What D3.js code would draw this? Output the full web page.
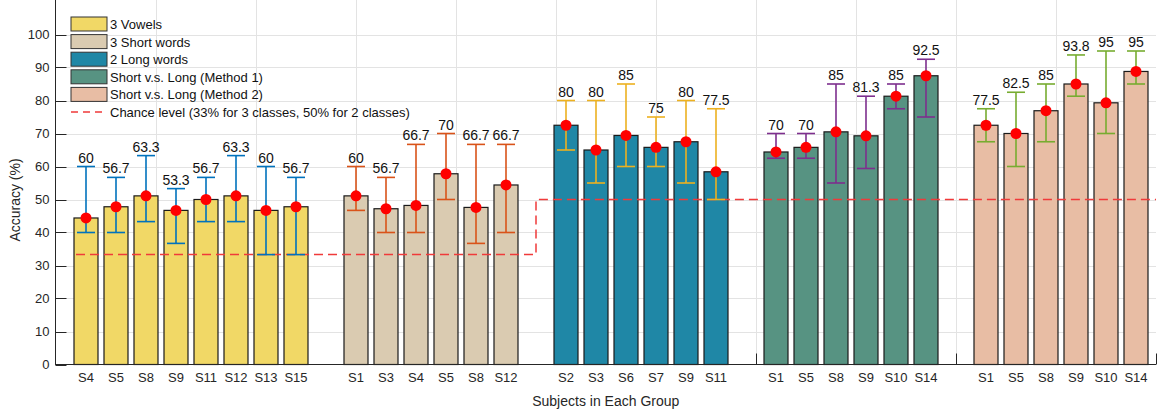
<!DOCTYPE html>
<html>
<head>
<meta charset="utf-8">
<script src="https://cdn.jsdelivr.net/npm/d3@7"></script>
<style>
  html, body { margin: 0; padding: 0; background: #fff; }
  svg { display: block; font-family: "Liberation Sans", Arial, Helvetica, sans-serif; }
</style>
</head>
<body>
<svg id="chart" width="1157" height="415"></svg>
<script>
// ---- data -------------------------------------------------------------
const groupNames = [
  "3 Vowels",
  "3 Short words",
  "2 Long words",
  "Short v.s. Long (Method 1)",
  "Short v.s. Long (Method 2)"
];
const subjects = [
  ["S4", "S5", "S8", "S9", "S11", "S12", "S13", "S15"],
  ["S1", "S3", "S4", "S5", "S8", "S12"],
  ["S2", "S3", "S6", "S7", "S9", "S11"],
  ["S1", "S5", "S8", "S9", "S10", "S14"],
  ["S1", "S5", "S8", "S9", "S10", "S14"]
];
// mean accuracy (bar height and red marker)
const meanAcc = [
  [44.4, 47.8, 51.1, 46.7, 50.0, 51.1, 46.7, 47.8],
  [51.1, 47.2, 48.2, 57.8, 47.6, 54.4],
  [72.5, 65.0, 69.4, 65.8, 67.5, 58.4],
  [64.4, 65.8, 70.5, 69.3, 81.3, 87.5],
  [72.5, 70.0, 76.9, 85.0, 79.3, 88.8]
];
// lowest and highest fold accuracy (error bar ends)
const minAcc = [
  [40, 40, 43.3, 36.7, 43.3, 43.3, 33.3, 33.3],
  [46.7, 40, 40, 50, 36.7, 40],
  [65, 55, 60, 60, 55, 50],
  [62.5, 62.5, 55, 59.4, 77.5, 75],
  [67.5, 60, 67.5, 81.3, 70, 85]
];
const maxAcc = [
  [60, 56.7, 63.3, 53.3, 56.7, 63.3, 60, 56.7],
  [60, 56.7, 66.7, 70, 66.7, 66.7],
  [80, 80, 85, 75, 80, 77.5],
  [70, 70, 85, 81.3, 85, 92.5],
  [77.5, 82.5, 85, 93.8, 95, 95]
];
// number of classes per group and the matching chance level (%)
const classCount = [3, 3, 2, 2, 2];
const chanceLevel = { 3: 33.3, 2: 50 };
const yTicks = [0, 10, 20, 30, 40, 50, 60, 70, 80, 90, 100];

// ---- styles -----------------------------------------------------------
const barColors = ["#f1d866", "#dacbb1", "#1f87a6", "#579382", "#e8bda4"];
const errColors = ["#0072bd", "#d95319", "#edb120", "#7e2f8e", "#77ac30"];
const axisColor = "#262626";
const gridColor = "#e3e3e3";
const chanceColor = "#f03a3a";

// ---- layout -----------------------------------------------------------
const svg = d3.select("#chart");
const plot = { left: 55.5, right: 1156, top: 1.5, bottom: 364.5 };

// flatten bars into slots; one empty slot separates consecutive groups
const bars = [];
const groupStart = [];
let slot = 1;
subjects.forEach((subs, g) => {
  groupStart.push(slot);
  subs.forEach((s, i) => {
    bars.push({
      group: g, subject: s, slot: slot,
      mean: meanAcc[g][i], lo: minAcc[g][i], hi: maxAcc[g][i]
    });
    slot += 1;
  });
  slot += 1;
});
const lastSlot = slot - 2;
const xMax = lastSlot + 2 / 3;

const x = d3.scaleLinear().domain([0, xMax]).range([plot.left + 0.5, plot.right]);
const y = d3.scaleLinear().domain([0, 110]).range([plot.bottom, plot.top]);
const barW = x(0.8) - x(0);

// ---- grid -------------------------------------------------------------
const gridX = d3.range(1, 11).map(k => k * xMax / 11);
svg.append("g").selectAll("line").data(gridX).join("line")
  .attr("x1", d => Math.round(x(d)) + 0.5).attr("x2", d => Math.round(x(d)) + 0.5)
  .attr("y1", plot.top - 1.5).attr("y2", plot.bottom)
  .attr("stroke", gridColor).attr("stroke-width", 1);
svg.append("g").selectAll("line").data(yTicks.filter(v => v > 0)).join("line")
  .attr("x1", plot.left).attr("x2", plot.right)
  .attr("y1", d => Math.round(y(d)) + 0.5).attr("y2", d => Math.round(y(d)) + 0.5)
  .attr("stroke", gridColor).attr("stroke-width", 1);

// inward ticks on the bottom edge (mostly hidden under the bars)
svg.append("g").selectAll("line").data(gridX.concat([xMax])).join("line")
  .attr("x1", d => Math.round(x(d)) + 0.5).attr("x2", d => Math.round(x(d)) + 0.5)
  .attr("y1", plot.bottom).attr("y2", plot.bottom - 11)
  .attr("stroke", axisColor).attr("stroke-width", 1);

// ---- bars -------------------------------------------------------------
svg.append("g").selectAll("rect").data(bars).join("rect")
  .attr("x", d => x(d.slot) - barW / 2)
  .attr("width", barW)
  .attr("y", d => y(d.mean))
  .attr("height", d => y(0) - y(d.mean))
  .attr("fill", d => barColors[d.group])
  .attr("stroke", "#1a1a1a").attr("stroke-width", 1.2);

// ---- chance level (stepped dashed line) ------------------------------
const chancePts = [];
const switchSlot = groupStart[classCount.indexOf(2)] - 1;
chancePts.push([groupStart[0] - 1 / 3, chanceLevel[3]]);
chancePts.push([switchSlot, chanceLevel[3]]);
chancePts.push([switchSlot, chanceLevel[2]]);
chancePts.push([xMax, chanceLevel[2]]);
svg.append("path")
  .attr("d", d3.line().x(d => x(d[0])).y(d => y(d[1]))(chancePts))
  .attr("fill", "none").attr("stroke", chanceColor)
  .attr("stroke-width", 1.5).attr("stroke-dasharray", "9,5");

// ---- error bars -------------------------------------------------------
const capHalf = 9;
const eb = svg.append("g").selectAll("g").data(bars).join("g")
  .attr("stroke", d => errColors[d.group]).attr("stroke-width", 1.6);
eb.append("line")
  .attr("x1", d => x(d.slot)).attr("x2", d => x(d.slot))
  .attr("y1", d => y(d.lo)).attr("y2", d => y(d.hi));
eb.append("line")
  .attr("x1", d => x(d.slot) - capHalf).attr("x2", d => x(d.slot) + capHalf)
  .attr("y1", d => y(d.lo)).attr("y2", d => y(d.lo));
eb.append("line")
  .attr("x1", d => x(d.slot) - capHalf).attr("x2", d => x(d.slot) + capHalf)
  .attr("y1", d => y(d.hi)).attr("y2", d => y(d.hi));

// ---- mean markers -----------------------------------------------------
svg.append("g").selectAll("circle").data(bars).join("circle")
  .attr("cx", d => x(d.slot)).attr("cy", d => y(d.mean))
  .attr("r", 5.5).attr("fill", "#ff0000");

// ---- max value labels -------------------------------------------------
svg.append("g").selectAll("text").data(bars).join("text")
  .attr("x", d => x(d.slot)).attr("y", d => y(d.hi) - 4)
  .attr("text-anchor", "middle").attr("font-size", 14).attr("fill", "#111")
  .text(d => String(d.hi));

// ---- axes -------------------------------------------------------------
svg.append("line")
  .attr("x1", plot.left).attr("x2", plot.left)
  .attr("y1", 0).attr("y2", plot.bottom + 0.5)
  .attr("stroke", axisColor).attr("stroke-width", 1);
svg.append("line")
  .attr("x1", plot.left).attr("x2", plot.right)
  .attr("y1", plot.bottom).attr("y2", plot.bottom)
  .attr("stroke", axisColor).attr("stroke-width", 1);

const yt = svg.append("g").selectAll("g").data(yTicks).join("g");
yt.append("line")
  .attr("x1", plot.left).attr("x2", plot.left + 11)
  .attr("y1", d => Math.round(y(d)) + 0.5).attr("y2", d => Math.round(y(d)) + 0.5)
  .attr("stroke", axisColor);
yt.append("text")
  .attr("x", plot.left - 6).attr("y", d => y(d) + 4.5)
  .attr("text-anchor", "end").attr("font-size", 13).attr("fill", axisColor)
  .text(d => d);

svg.append("g").selectAll("text").data(bars).join("text")
  .attr("x", d => x(d.slot)).attr("y", plot.bottom + 17)
  .attr("text-anchor", "middle").attr("font-size", 13).attr("fill", axisColor)
  .text(d => d.subject);

svg.append("text")
  .attr("x", (plot.left + plot.right) / 2).attr("y", 406)
  .attr("text-anchor", "middle").attr("font-size", 14).attr("fill", axisColor)
  .text("Subjects in Each Group");
svg.append("text")
  .attr("transform", `translate(20,${(plot.top + plot.bottom) / 2 + 17}) rotate(-90)`)
  .attr("text-anchor", "middle").attr("font-size", 14).attr("fill", axisColor)
  .text("Accuracy (%)");

// ---- legend -----------------------------------------------------------
const legend = svg.append("g").attr("transform", "translate(71,17)");
const rowH = 17.6;
const items = legend.selectAll("g").data(groupNames).join("g")
  .attr("transform", (d, i) => `translate(0,${i * rowH})`);
items.append("rect")
  .attr("x", 0).attr("y", 0).attr("width", 36).attr("height", 14)
  .attr("fill", (d, i) => barColors[i]).attr("stroke", "#333").attr("stroke-width", 1);
items.append("text")
  .attr("x", 39).attr("y", 12).attr("font-size", 13).attr("fill", "#111")
  .text(d => d);
const chanceRow = legend.append("g").attr("transform", `translate(0,${groupNames.length * rowH})`);
chanceRow.append("line")
  .attr("x1", 0).attr("x2", 36).attr("y1", 7).attr("y2", 7)
  .attr("stroke", chanceColor).attr("stroke-width", 1.5).attr("stroke-dasharray", "7,5");
chanceRow.append("text")
  .attr("x", 39).attr("y", 12).attr("font-size", 13).attr("fill", "#111")
  .text("Chance level (33% for 3 classes, 50% for 2 classes)");
</script>
</body>
</html>
